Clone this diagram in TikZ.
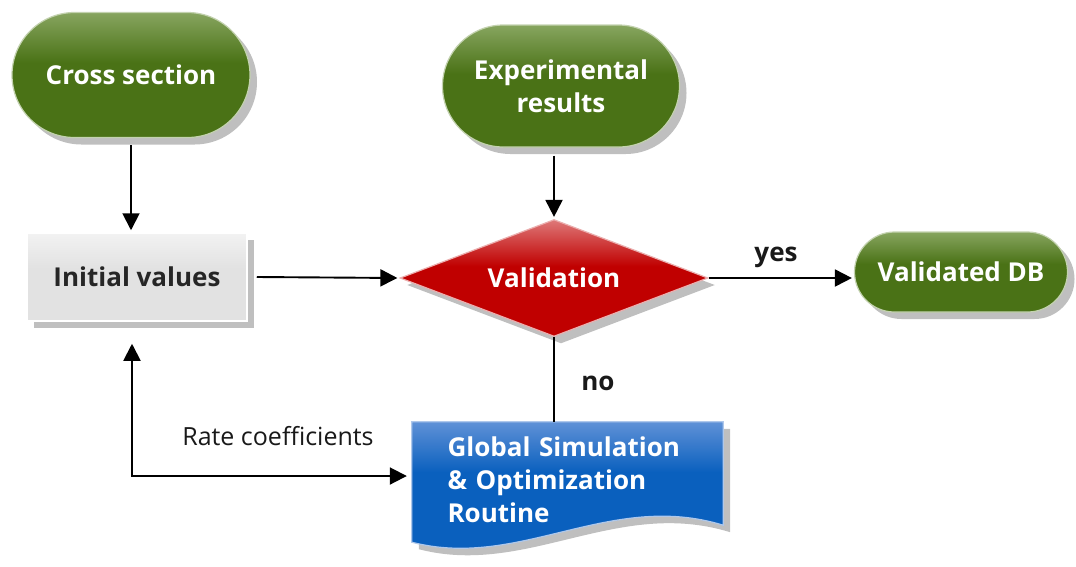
\documentclass[tikz,border=0pt]{standalone}
\usepackage{fontspec}
\setmainfont{Open Sans}
\usetikzlibrary{shapes.geometric,shapes.misc,shadows,arrows.meta}
\definecolor{grnB}{RGB}{74,114,22}
\definecolor{grnL}{RGB}{135,165,95}
\definecolor{redB}{RGB}{192,0,0}
\definecolor{redL}{RGB}{222,120,120}
\definecolor{bluB}{RGB}{10,96,190}
\definecolor{bluL}{RGB}{95,145,215}
\definecolor{gryB}{RGB}{226,226,226}
\definecolor{gryL}{RGB}{242,242,242}
\pgfdeclareverticalshading{grnshade}{100bp}{color(0bp)=(grnB); color(55bp)=(grnB); color(75bp)=(grnL); color(100bp)=(grnL)}
\pgfdeclareverticalshading{redshade}{100bp}{color(0bp)=(redB); color(55bp)=(redB); color(75bp)=(redL); color(100bp)=(redL)}
\pgfdeclareverticalshading{blushade}{100bp}{color(0bp)=(bluB); color(58bp)=(bluB); color(75bp)=(bluL); color(100bp)=(bluL)}
\pgfdeclareverticalshading{gryshade}{100bp}{color(0bp)=(gryB); color(55bp)=(gryB); color(75bp)=(gryL); color(100bp)=(gryL)}
\begin{document}
\begin{tikzpicture}[x=1pt,y=-1pt,
  shadowed/.style={general shadow={fill=black!25,shadow xshift=7pt,shadow yshift=-7pt}},
  bigtxt/.style={font=\fontsize{26}{33}\selectfont\bfseries},
  term/.style={rounded rectangle, shade, shading=grnshade, draw=grnL!50!white, line width=1.2pt,
    shadowed, text=white, bigtxt, align=center, inner sep=0pt},
  proc/.style={rectangle, shade, shading=gryshade, draw=white, line width=1.5pt,
    shadowed, text=black!85, bigtxt, inner sep=0pt},
  dec/.style={diamond, shape aspect=2.63, shade, shading=redshade, draw=redL!60!white, line width=1.2pt,
    shadowed, text=white, bigtxt, inner sep=0pt},
  conn/.style={draw=black, line width=1.9pt, -{Triangle[length=17pt,width=17pt]}},
  plain/.style={draw=black, line width=1.9pt},
  lbl/.style={text=black!90, font=\fontsize{26}{33}\selectfont\bfseries},
  rlbl/.style={text=black!90, font=\fontsize{25}{33}\selectfont}
]
\useasboundingbox (0,0) rectangle (1076,566);

\node[term, minimum width=238pt, minimum height=125pt] (cs) at (131,75) {Cross section};
\node[term, minimum width=237pt, minimum height=122pt] (er) at (561,86) {Experimental\\results};
\node[proc, minimum width=220pt, minimum height=88pt] (iv) at (137,277) {Initial values};
\node[dec, minimum width=308pt, minimum height=117pt] (val) at (554,278) {Validation};
\node[term, minimum width=213pt, minimum height=80pt] (vdb) at (961,272) {Validated DB};

% document shape
\node[rectangle, draw=none, minimum width=311pt, minimum height=116pt, inner sep=0pt] (gs) at (567.5,480) {};
\path[shadowed, shade, shading=blushade, draw=bluL!50!white, line width=1.2pt]
  (gs.north west) -- (gs.north east) -- ([yshift=13pt]gs.south east)
  .. controls ([shift={(198pt,48pt)}]gs.south west) and ([shift={(108pt,-32pt)}]gs.south west)
  .. ([yshift=-4pt]gs.south west) -- cycle;
\node[text=white, bigtxt, text width=240pt, align=left, inner sep=0pt] (gst) at (gs.center)
  {Global Simulation\\\& Optimization\\Routine};

% connectors
\draw[conn, shorten >=2pt] ([yshift=-7pt]cs.south) -- (cs.south |- iv.north);
\draw[conn, shorten >=2pt] ([yshift=-8pt]er.south -| val.north) -- (val.north);
\draw[conn, shorten >=2pt] ([xshift=9pt]iv.east) -- (val.west);
\draw[conn, shorten >=2pt] (val.east) -- (val.east -| vdb.west);
\draw[plain] (val.south) -- (val.south |- gs.north);
\draw[draw=black, line width=1.9pt, {Triangle[length=17pt,width=17pt]}-{Triangle[length=17pt,width=17pt]}, shorten >=5pt]
  ([xshift=-5pt,yshift=-22pt]iv.south) |- ([yshift=4pt]gs.west);

% labels
\node[lbl] (yes) at (776,257) {yes};
\node[lbl] (no) at (598,383) {no};
\node[rlbl] (rc) at (278,436) {Rate coefficients};
\end{tikzpicture}
\end{document}
